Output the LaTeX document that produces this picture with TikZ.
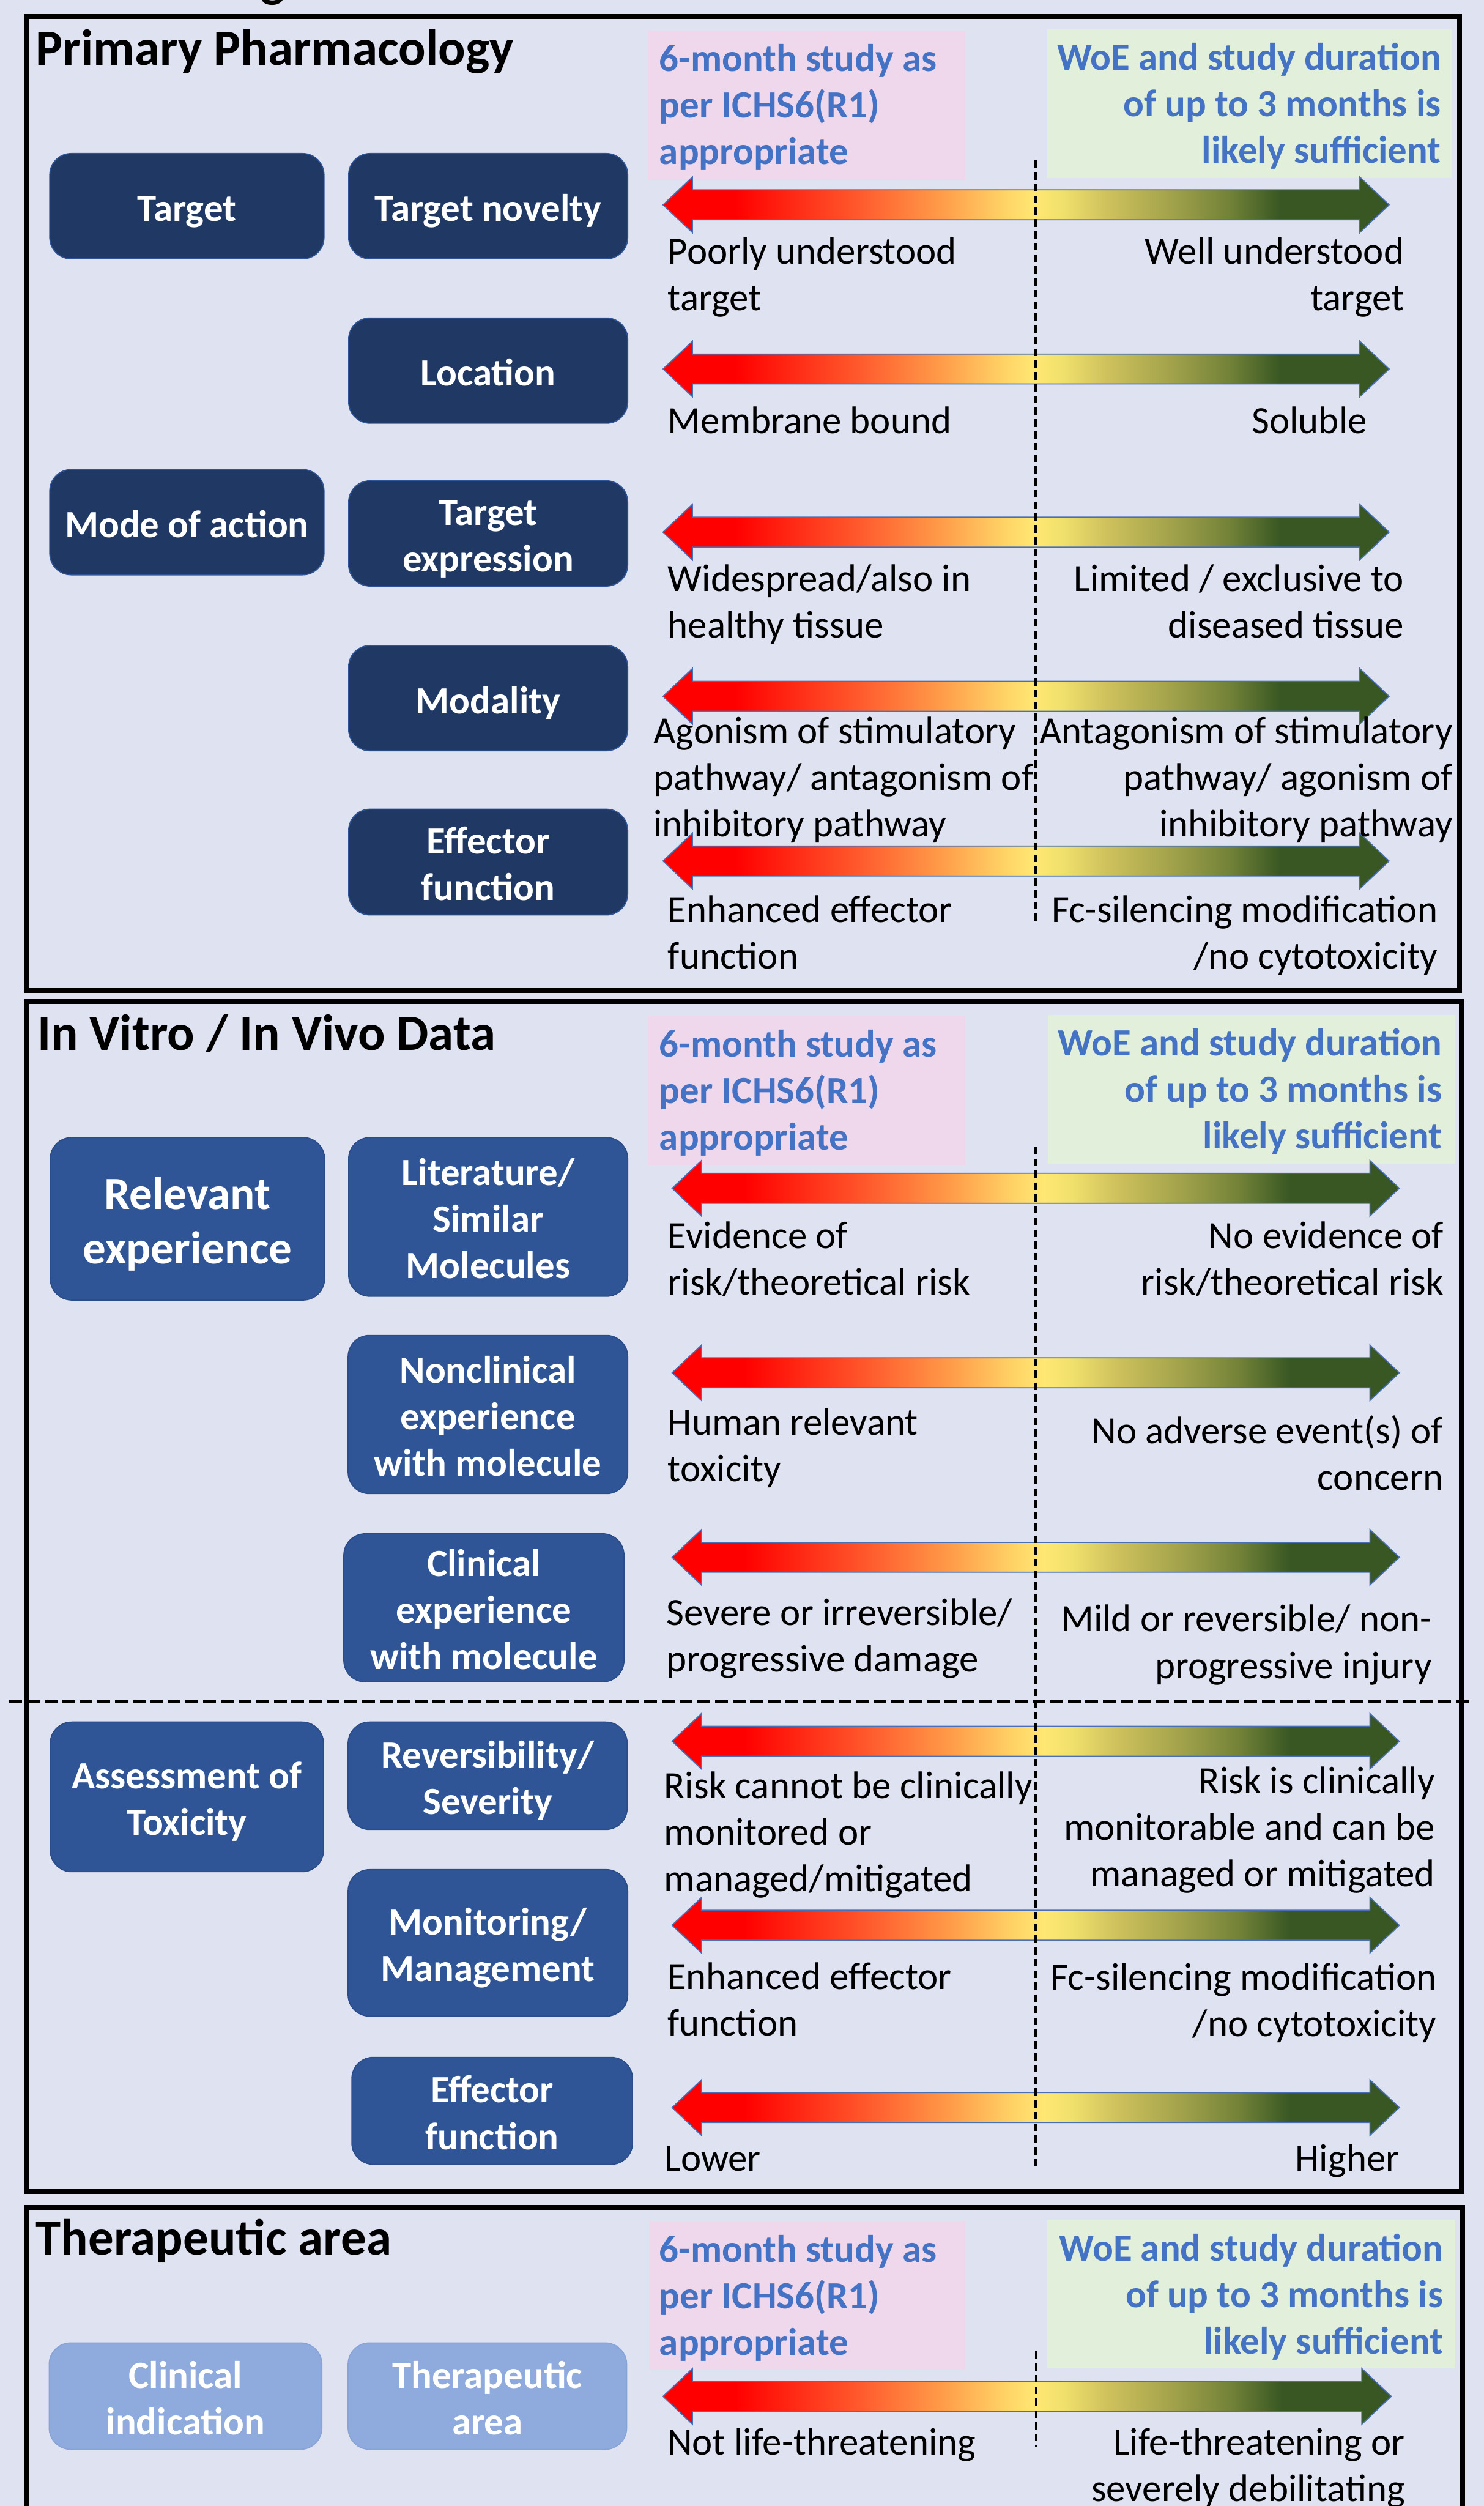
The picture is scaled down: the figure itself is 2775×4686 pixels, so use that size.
\documentclass[tikz,border=0pt]{standalone}
\usepackage{fontspec}
\setmainfont{Carlito}
\definecolor{bgc}{HTML}{DFE3F1}
\definecolor{navyc}{HTML}{203864}
\definecolor{navyline}{HTML}{2F5597}
\definecolor{midc}{HTML}{2F5597}
\definecolor{midline}{HTML}{2A4C88}
\definecolor{lightc}{HTML}{8FAADC}
\definecolor{lightline}{HTML}{88A3D6}
\definecolor{pinkc}{HTML}{F0D8EC}
\definecolor{greenc}{HTML}{E2EFDA}
\definecolor{hdrc}{HTML}{4472C4}
\definecolor{arrowline}{HTML}{4A6FB5}
\definecolor{gR}{HTML}{FF0000}
\definecolor{gO1}{HTML}{FF5A2D}
\definecolor{gO2}{HTML}{FF9A48}
\definecolor{gY1}{HTML}{FFD366}
\definecolor{gY}{HTML}{FFE873}
\definecolor{gY2}{HTML}{F0E06C}
\definecolor{gK}{HTML}{CFC25D}
\definecolor{gOl}{HTML}{A2A24B}
\definecolor{gOd}{HTML}{728238}
\definecolor{gG}{HTML}{385723}
\pgfdeclarehorizontalshading{arrowgrad}{100bp}{color(0bp)=(gR); color(30bp)=(gR); color(38.5bp)=(gO1); color(44bp)=(gO2); color(48.5bp)=(gY1); color(50.6bp)=(gY); color(52.5bp)=(gY2); color(55.5bp)=(gK); color(60bp)=(gOl); color(64bp)=(gOd); color(67.5bp)=(gG); color(100bp)=(gG)}
\newcommand\gradarrow[3]{%
  \shadedraw[arrowsty] (#1,#3) -- ++(55,-52) -- ++(0,24) -- (#2-55,#3-28) -- ++(0,-24) -- (#2,#3) -- ++(-55,52) -- ++(0,-24) -- (#1+55,#3+28) -- ++(0,24) -- cycle;}
\newcommand\bs{\rule[-15pt]{0pt}{87pt}}
\newcommand\bsl{\rule[-18pt]{0pt}{102pt}}
\begin{document}
\begin{tikzpicture}[x=1pt,y=-1pt,
  arrowsty/.style={shading=arrowgrad, draw=arrowline, line width=2pt},
  framesty/.style={draw=black, line width=9pt},
  vdash/.style={draw=black, line width=4pt, dash pattern=on 14pt off 8pt},
  hdash/.style={draw=black, line width=7pt, dash pattern=on 24pt off 9pt},
  bxbase/.style={rounded corners=40pt, line width=2pt, text=white, align=center, inner sep=0pt, font=\bfseries\fontsize{72pt}{87pt}\selectfont},
  bxA/.style={bxbase, fill=navyc, draw=navyline},
  bxB/.style={bxbase, fill=midc, draw=midline},
  bxC/.style={bxbase, fill=lightc, draw=lightline},
  lblL/.style={anchor=north west, inner sep=0pt, align=left, font=\fontsize{72pt}{87pt}\selectfont},
  lblR/.style={anchor=north east, inner sep=0pt, align=right, font=\fontsize{72pt}{87pt}\selectfont},
  hdrL/.style={anchor=north west, inner sep=0pt, align=left, text=hdrc, font=\bfseries\fontsize{72pt}{87pt}\selectfont},
  hdrR/.style={anchor=north east, inner sep=0pt, align=right, text=hdrc, font=\bfseries\fontsize{72pt}{87pt}\selectfont},
  ttl/.style={anchor=base west, inner sep=0pt, font=\bfseries\fontsize{95pt}{114pt}\selectfont}
]
\path[use as bounding box, fill=bgc] (0,0) rectangle (2775,4686);

% fragment of a title above the picture
\node[ttl] (gfrag) at (488,-6) {g};

% header background panels
\fill[pinkc] (1212,57) rectangle (1805,337);
\fill[greenc] (1957,55) rectangle (2715,333);
\fill[pinkc] (1212,1900) rectangle (1805,2178);
\fill[greenc] (1960,1898) rectangle (2722,2176);
\fill[pinkc] (1214,4153) rectangle (1805,4431);
\fill[greenc] (1959,4151) rectangle (2720,4429);

% section frames
\draw[framesty] (49,31) rectangle (2730,1852);
\draw[framesty] (49,1873) rectangle (2733,4098);
\draw[framesty] (50,4128) rectangle (2735,4780);

% gradient arrows
\gradarrow{1240}{2598}{383}
\gradarrow{1240}{2598}{690}
\gradarrow{1240}{2598}{995}
\gradarrow{1240}{2598}{1302}
\gradarrow{1240}{2598}{1610}
\gradarrow{1257}{2617}{2222}
\gradarrow{1257}{2617}{2567}
\gradarrow{1257}{2617}{2912}
\gradarrow{1257}{2617}{3256}
\gradarrow{1257}{2617}{3600}
\gradarrow{1257}{2617}{3941}
\gradarrow{1240}{2602}{4481}

% dashed lines
\coordinate (v1t) at (1937,300);  \coordinate (v1b) at (1937,1723);
\coordinate (v2t) at (1937,2145); \coordinate (v2b) at (1937,4050);
\coordinate (v3t) at (1938,4397); \coordinate (v3b) at (1938,4575);
\coordinate (hl) at (17,3182);    \coordinate (hr) at (2755,3182);
\draw[vdash] (v1t) -- (v1b);
\draw[vdash] (v2t) -- (v2b);
\draw[vdash] (v3t) -- (v3b);
\draw[hdash] (hl) -- (hr);

% section titles
\node[ttl] (t1) at (67,122) {Primary Pharmacology};
\node[ttl] (t2) at (70,1964) {In Vitro / In Vivo Data};
\node[ttl] (t3) at (67,4216) {Therapeutic area};

% header texts
\node[hdrL] (p1) at (1233,72) {\strut 6-month study as\\per ICHS6(R1)\\appropriate};
\node[hdrR] (g1) at (2695,70) {\strut WoE and study duration\\of up to 3 months is\\likely sufficient};
\node[hdrL] (p2) at (1233,1915) {\strut 6-month study as\\per ICHS6(R1)\\appropriate};
\node[hdrR] (g2) at (2697,1913) {\strut WoE and study duration\\of up to 3 months is\\likely sufficient};
\node[hdrL] (p3) at (1233,4169) {\strut 6-month study as\\per ICHS6(R1)\\appropriate};
\node[hdrR] (g3) at (2699,4167) {\strut WoE and study duration\\of up to 3 months is\\likely sufficient};

% frame 1 boxes
\node[bxA, minimum width=513pt, minimum height=197pt] (target) at (349.5,385.5) {\bs Target\bs};
\node[bxA, minimum width=513pt, minimum height=197pt] (moa) at (349.5,976.5) {\bs Mode of action\bs};
\node[bxA, minimum width=522pt, minimum height=197pt] (novelty) at (913,385.5) {\bs Target novelty\bs};
\node[bxA, minimum width=522pt, minimum height=197pt] (location) at (913,693) {\bs Location\bs};
\node[bxA, minimum width=522pt, minimum height=197pt] (texpr) at (913,997.5) {\bs Target\\expression\bs};
\node[bxA, minimum width=522pt, minimum height=197pt] (modality) at (913,1305.5) {\bs Modality\bs};
\node[bxA, minimum width=522pt, minimum height=198pt] (effector1) at (913,1612) {\bs Effector\\function\bs};

% frame 2 boxes
\node[bxB, minimum width=513pt, minimum height=304pt, font=\bfseries\fontsize{86pt}{102pt}\selectfont] (relexp) at (350.5,2279) {\bsl Relevant\\experience\bsl};
\node[bxB, minimum width=522pt, minimum height=297pt] (lit) at (913,2275.5) {\bs Literature/\\Similar\\Molecules\bs};
\node[bxB, minimum width=523pt, minimum height=296pt] (noncl) at (912.5,2645) {\bs Nonclinical\\experience\\with molecule\bs};
\node[bxB, minimum width=524pt, minimum height=277pt] (clin) at (905,3006.5) {\bs Clinical\\experience\\with molecule\bs};
\node[bxB, minimum width=511pt, minimum height=280pt] (assess) at (349.5,3360) {\bs Assessment of\\Toxicity\bs};
\node[bxB, minimum width=522pt, minimum height=201pt] (revers) at (912,3320.5) {\bs Reversibility/\\Severity\bs};
\node[bxB, minimum width=523pt, minimum height=274pt] (monit) at (912.5,3633) {\bs Monitoring/\\Management\bs};
\node[bxB, minimum width=525pt, minimum height=200pt] (effector2) at (920.5,3947) {\bs Effector\\function\bs};

% frame 3 boxes
\node[bxC, minimum width=510pt, minimum height=199pt] (clinind) at (347,4480.5) {\bs Clinical\\indication\bs};
\node[bxC, minimum width=521pt, minimum height=199pt] (therarea) at (911.5,4480.5) {\bs Therapeutic\\area\bs};

% frame 1 labels
\node[lblL] (a1l) at (1249,433) {\strut Poorly understood\\target};
\node[lblR] (a1r) at (2626,433) {\strut Well understood\\target};
\node[lblL] (a2l) at (1249,750) {\strut Membrane bound};
\node[lblR] (a2r) at (2557,750) {\strut Soluble};
\node[lblL] (a3l) at (1249,1045) {\strut Widespread/also in\\healthy tissue};
\node[lblR] (a3r) at (2626,1045) {\strut Limited / exclusive to\\diseased tissue};
\node[lblL] (a4l) at (1222,1329) {\strut Agonism of stimulatory\\pathway/ antagonism of\\inhibitory pathway};
\node[lblR] (a4r) at (2717,1329) {\strut Antagonism of stimulatory\\pathway/ agonism of\\inhibitory pathway};
\node[lblL] (a5l) at (1249,1664) {\strut Enhanced effector\\function};
\node[lblR] (a5r) at (2689,1664) {\strut Fc-silencing modification\\/no cytotoxicity};

% frame 2 labels
\node[lblL] (b1l) at (1249,2273) {\strut Evidence of\\risk/theoretical risk};
\node[lblR] (b1r) at (2700,2273) {\strut No evidence of\\risk/theoretical risk};
\node[lblL] (b2l) at (1249,2622) {\strut Human relevant\\toxicity};
\node[lblR] (b2r) at (2699,2638) {\strut No adverse event(s) of\\concern};
\node[lblL] (b3l) at (1246,2978) {\strut Severe or irreversible/\\progressive damage};
\node[lblR] (b3r) at (2678,2990) {\strut Mild or reversible/ non-\\progressive injury};
\node[lblL] (b4l) at (1242,3302) {\strut Risk cannot be clinically\\monitored or\\managed/mitigated};
\node[lblR] (b4r) at (2684,3293) {\strut Risk is clinically\\monitorable and can be\\managed or mitigated};
\node[lblL] (b5l) at (1248,3659) {\strut Enhanced effector\\function};
\node[lblR] (b5r) at (2687,3660) {\strut Fc-silencing modification\\/no cytotoxicity};
\node[lblL] (b6l) at (1243,3999) {\strut Lower};
\node[lblR] (b6r) at (2617,3999) {\strut Higher};

% frame 3 labels
\node[lblL] (c1l) at (1248,4529) {\strut Not life-threatening};
\node[lblR] (c1r) at (2628,4529) {\strut Life-threatening or\\severely debilitating};
\end{tikzpicture}
\end{document}
